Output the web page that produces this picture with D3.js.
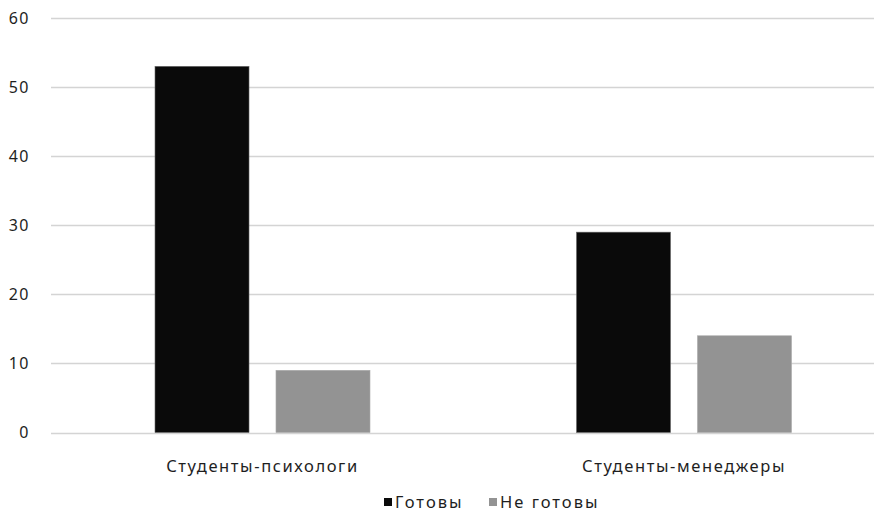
<!DOCTYPE html>
<html>
<head>
<meta charset="utf-8">
<script src="https://cdn.jsdelivr.net/npm/d3@7"></script>
<style>
  body { margin: 0; background: #fff; }
  text { font-family: "Noto Sans", sans-serif; fill: #1e1e1e; }
</style>
</head>
<body>
<div id="chart"></div>
<script>
// data
var groups = ["Студенты-психологи", "Студенты-менеджеры"];
var subgroups = ["Готовы", "Не готовы"];
var ready = [53, 29];
var notReady = [9, 14];
var yTicks = [0, 10, 20, 30, 40, 50, 60];

var W = 874, H = 512;
var svg = d3.select("#chart").append("svg")
    .attr("width", W)
    .attr("height", H);

var y = d3.scaleLinear()
    .domain([0, 60])
    .range([432.5, 18]);

// the original is cropped on the right, so the band range runs past the edge
var x = d3.scaleBand()
    .domain(groups)
    .range([52, 895])
    .padding(0);

var xSub = d3.scaleBand()
    .domain(subgroups)
    .range([103, 318])
    .paddingInner(0.223)
    .paddingOuter(0);

var color = d3.scaleOrdinal()
    .domain(subgroups)
    .range(["#0a0a0a", "#939393"]);

// gridlines
svg.append("g")
  .selectAll("line")
  .data(yTicks)
  .enter().append("line")
    .attr("x1", 51)
    .attr("x2", 874)
    .attr("y1", function(d){ return Math.round(y(d)) + 0.5; })
    .attr("y2", function(d){ return Math.round(y(d)) + 0.5; })
    .attr("stroke", "#d4d4d4")
    .attr("stroke-width", 1.5);

// y labels
svg.append("g")
  .selectAll("text")
  .data(yTicks)
  .enter().append("text")
    .attr("x", 30)
    .attr("y", function(d){ return y(d); })
    .attr("dy", "0.35em")
    .attr("text-anchor", "end")
    .style("font-size", "16px")
    .style("letter-spacing", "1.5px")
    .text(function(d){ return d; });

// bars
var rows = groups.map(function(g, i){
  return {group: g, values: [{key: subgroups[0], value: ready[i]}, {key: subgroups[1], value: notReady[i]}]};
});

svg.append("g")
  .selectAll("g")
  .data(rows)
  .enter().append("g")
    .attr("transform", function(d){ return "translate(" + x(d.group) + ",0)"; })
  .selectAll("rect")
  .data(function(d){ return d.values; })
  .enter().append("rect")
    .attr("x", function(d){ return xSub(d.key); })
    .attr("y", function(d){ return y(d.value); })
    .attr("width", xSub.bandwidth())
    .attr("height", function(d){ return y(0) - y(d.value); })
    .attr("fill", function(d){ return color(d.key); })
    .attr("stroke", function(d){ return d.key == "Готовы" ? "#666" : "#aaa"; })
    .attr("stroke-width", 0.6);

// x labels
svg.append("g")
  .selectAll("text")
  .data(groups)
  .enter().append("text")
    .attr("x", function(d){ return x(d) + 210.5; })
    .attr("y", 466)
    .attr("dy", "0.35em")
    .attr("text-anchor", "middle")
    .style("font-size", "16.5px")
    .style("letter-spacing", "1.6px")
    .text(function(d){ return d; });

// legend
var legX = [384, 489];
var leg = svg.append("g")
  .selectAll("g")
  .data(subgroups)
  .enter().append("g")
    .attr("transform", function(d, i){ return "translate(" + legX[i] + ",0)"; });
leg.append("rect")
    .attr("x", 0)
    .attr("y", 498)
    .attr("width", 8)
    .attr("height", 8)
    .attr("fill", function(d){ return color(d); });
leg.append("text")
    .attr("x", 11)
    .attr("y", 502.5)
    .attr("dy", "0.35em")
    .style("font-size", "16.5px")
    .style("letter-spacing", "2px")
    .text(function(d){ return d; });
</script>
</body>
</html>
